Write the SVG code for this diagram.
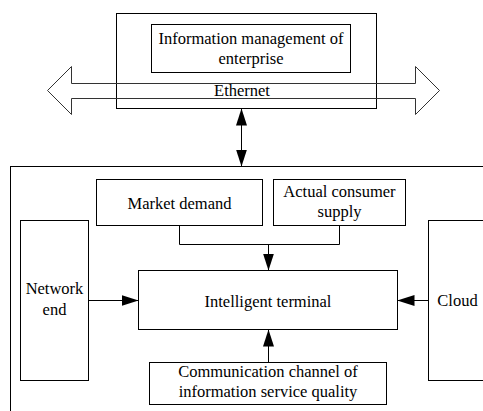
<svg xmlns="http://www.w3.org/2000/svg" width="483" height="411" viewBox="0 0 483 411">
  <style>
    .box { fill: #fff; stroke: #000; stroke-width: 1; }
    .frame { fill: none; stroke: #000; stroke-width: 1; }
    .lbl { font-family: "Liberation Serif", "Times New Roman", serif; font-size: 16.5px; fill: #000; text-anchor: middle; }
    .conn { fill: none; stroke: #000; stroke-width: 1; }
    .bus { fill: none; stroke: #333; stroke-width: 1; }
  </style>
  <defs>
    <marker id="ah" markerUnits="userSpaceOnUse" markerWidth="17" markerHeight="11" refX="17" refY="5.5" orient="auto-start-reverse" viewBox="0 0 17 11">
      <path d="M0,0 L17,5.5 L0,11 Z" fill="#000"/>
    </marker>
  </defs>
  <rect width="483" height="411" fill="#fff"/>

  <g id="enterprise-frame">
    <rect class="frame" x="116.5" y="13.5" width="260" height="95"/>
  </g>
  <g id="info-management">
    <rect class="box" x="151.5" y="24.5" width="199" height="48"/>
    <text class="lbl" x="251" y="44">Information management of</text>
    <text class="lbl" x="251" y="63.5">enterprise</text>
  </g>
  <g id="ethernet">
    <polygon class="bus" points="47.5,90.5 71.5,66.5 71.5,83.5 415.5,83.5 415.5,66.5 439.5,90.5 415.5,114.5 415.5,98.5 71.5,98.5 71.5,114.5"/>
    <text class="lbl" x="242" y="96">Ethernet</text>
  </g>

  <g id="system-frame">
    <rect class="frame" x="10.5" y="166.5" width="500" height="260"/>
  </g>
  <g id="market-demand">
    <rect class="box" x="96.5" y="179.5" width="166" height="46"/>
    <text class="lbl" x="179.5" y="209">Market demand</text>
  </g>
  <g id="consumer-supply">
    <rect class="box" x="273.5" y="179.5" width="132" height="46"/>
    <text class="lbl" x="339.5" y="197">Actual consumer</text>
    <text class="lbl" x="339.5" y="216.5">supply</text>
  </g>
  <g id="network-end">
    <rect class="box" x="20.5" y="220.5" width="68" height="160"/>
    <text class="lbl" x="54.5" y="293.5">Network</text>
    <text class="lbl" x="54.5" y="315">end</text>
  </g>
  <g id="cloud">
    <rect class="box" x="428.5" y="220.5" width="80" height="160"/>
    <text class="lbl" x="457.5" y="306">Cloud</text>
  </g>
  <g id="intelligent-terminal">
    <rect class="box" x="138.5" y="270.5" width="259" height="59"/>
    <text class="lbl" x="268" y="306.5">Intelligent terminal</text>
  </g>
  <g id="communication-channel">
    <rect class="box" x="149.5" y="362.5" width="237" height="42"/>
    <text class="lbl" x="268" y="377">Communication channel of</text>
    <text class="lbl" x="268" y="396.5">information service quality</text>
  </g>

  <g id="connectors">
    <line class="conn" x1="241.5" y1="108.5" x2="241.5" y2="166.5" marker-start="url(#ah)" marker-end="url(#ah)"/>
    <polyline class="conn" points="179.5,225.5 179.5,244.5 339.5,244.5 339.5,225.5"/>
    <line class="conn" x1="268.5" y1="244.5" x2="268.5" y2="270.5" marker-end="url(#ah)"/>
    <line class="conn" x1="88.5" y1="300.5" x2="138.5" y2="300.5" marker-end="url(#ah)"/>
    <line class="conn" x1="428.5" y1="300.5" x2="397.5" y2="300.5" marker-end="url(#ah)"/>
    <line class="conn" x1="268.5" y1="362.5" x2="268.5" y2="329.5" marker-end="url(#ah)"/>
  </g>
</svg>
